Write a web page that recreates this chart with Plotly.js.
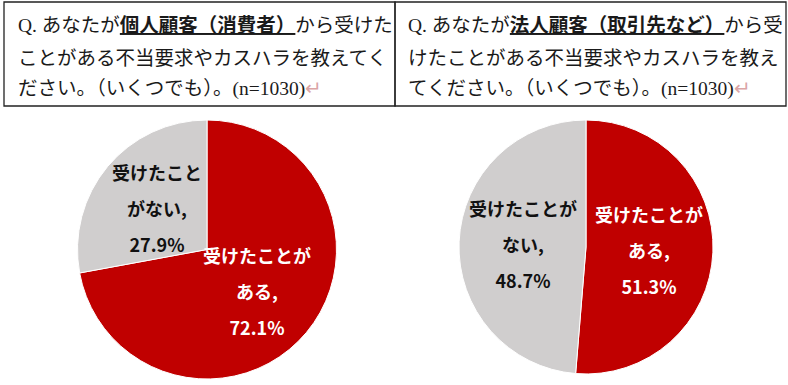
<!DOCTYPE html>
<html>
<head>
<meta charset="utf-8">
<script src="https://cdn.plot.ly/plotly-3.0.1.min.js"></script>
<style>html,body{margin:0;padding:0;background:#fff;}</style>
</head>
<body>
<div id="chart" style="width:788px;height:385px;"></div>
<script>
// ---- data ----
const categories = ['受けたことがある', '受けたことがない'];
const consumerValues = [72.1, 27.9];
const corporateValues = [51.3, 48.7];
const consumerLabelLines = [['受けたことが', 'ある,'], ['受けたこと', 'がない,']];
const corporateLabelLines = [['受けたことが', 'ある,'], ['受けたことが', 'ない,']];
const leftQuestionLines = [
  'Q. あなたが<b><u>個人顧客（消費者）</u></b>から受けた',
  'ことがある不当要求やカスハラを教えてく',
  'ださい。（いくつでも）。(n=1030)<span style="color:#dba5a5">↵</span>'
];
const rightQuestionLines = [
  'Q. あなたが<b><u>法人顧客（取引先など）</u></b>から受',
  'けたことがある不当要求やカスハラを教え',
  'てください。（いくつでも）。(n=1030)<span style="color:#dba5a5">↵</span>'
];

// ---- styling / geometry ----
const W = 788, H = 385;
const px = x => x / W;
const py = y => 1 - y / H;
const RED = '#C00000', GRAY = '#D0CECE';
const TEXT_COLORS = ['#ffffff', '#111111'];
const LABEL_PX = 18;
const LABEL_RADIUS = 0.5;

const pies = [
  { values: consumerValues, lines: consumerLabelLines, box: { x0: 77, x1: 337, y0: 120, y1: 379 } },
  { values: corporateValues, lines: corporateLabelLines, box: { x0: 459, x1: 713, y0: 120, y1: 374 } }
];

const data = pies.map(p => ({
  type: 'pie',
  labels: categories,
  values: p.values,
  textinfo: 'none',
  sort: false,
  direction: 'clockwise',
  rotation: 0,
  hoverinfo: 'skip',
  marker: { colors: [RED, GRAY], line: { color: '#ffffff', width: 1 } },
  domain: { x: [px(p.box.x0), px(p.box.x1)], y: [py(p.box.y1), py(p.box.y0)] },
  showlegend: false
}));

const annotations = [];

// slice labels, placed on each slice's bisector
pies.forEach(p => {
  const cx = (p.box.x0 + p.box.x1) / 2, cy = (p.box.y0 + p.box.y1) / 2;
  const r = Math.min(p.box.x1 - p.box.x0, p.box.y1 - p.box.y0) / 2;
  const total = p.values.reduce((a, b) => a + b, 0);
  let cum = 0;
  p.values.forEach((v, i) => {
    const mid = (cum + v / 2) / total * 2 * Math.PI;
    cum += v;
    const x = cx + LABEL_RADIUS * r * Math.sin(mid);
    const y = cy - LABEL_RADIUS * r * Math.cos(mid);
    const txt = p.lines[i].concat([v.toFixed(1) + '%'])
      .map(s => '<span style="font-size:' + LABEL_PX + 'px">' + s + '</span>')
      .join('<br>');
    annotations.push({
      xref: 'paper', yref: 'paper', x: px(x), y: py(y),
      xanchor: 'center', yanchor: 'middle', align: 'center',
      text: txt, showarrow: false,
      font: { family: '"Noto Sans CJK JP", sans-serif', size: 27.7, weight: 'bold', color: TEXT_COLORS[i] }
    });
  });
});

// question boxes
const qFont = { family: '"Liberation Serif", "Noto Sans CJK JP", serif', size: 19.5, color: '#1a1a1a' };
const lineY = [25, 58, 89];
leftQuestionLines.forEach((t, i) => annotations.push({
  xref: 'paper', yref: 'paper', x: px(16), y: py(lineY[i]), xanchor: 'left', yanchor: 'middle',
  text: t, showarrow: false, font: qFont, align: 'left'
}));
rightQuestionLines.forEach((t, i) => annotations.push({
  xref: 'paper', yref: 'paper', x: px(406), y: py(lineY[i]), xanchor: 'left', yanchor: 'middle',
  text: t, showarrow: false, font: qFont, align: 'left'
}));

const boxLine = { color: '#222', width: 1.3 };
const shapes = [
  { type: 'rect', xref: 'paper', yref: 'paper', x0: px(4), x1: px(395), y0: py(106), y1: py(2), line: boxLine },
  { type: 'rect', xref: 'paper', yref: 'paper', x0: px(395), x1: px(786), y0: py(106), y1: py(2), line: boxLine }
];

const layout = {
  width: W, height: H,
  margin: { l: 0, r: 0, t: 0, b: 0 },
  paper_bgcolor: '#ffffff',
  plot_bgcolor: '#ffffff',
  annotations: annotations,
  shapes: shapes,
  showlegend: false
};

Plotly.newPlot('chart', data, layout, { staticPlot: true });
</script>
</body>
</html>
